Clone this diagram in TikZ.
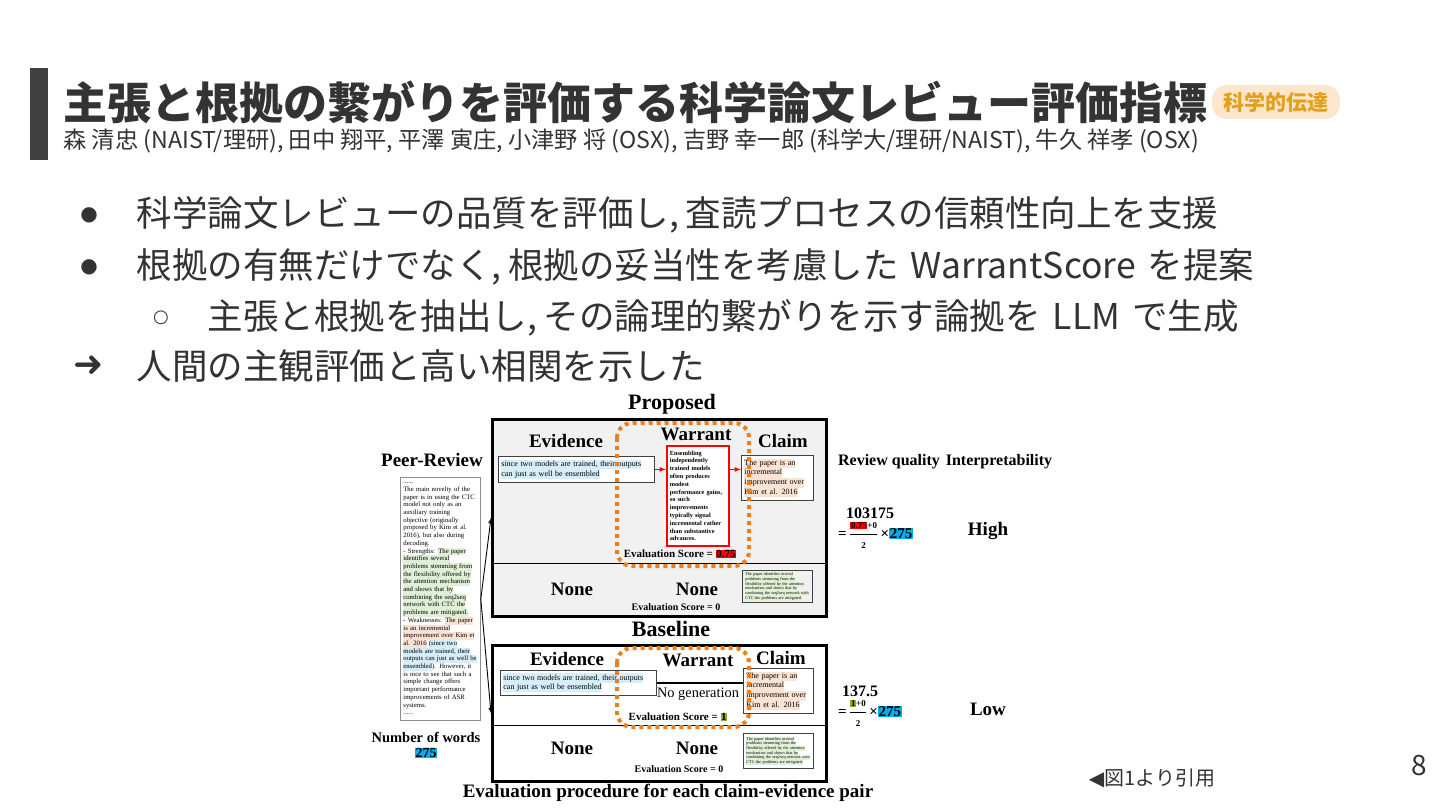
\documentclass[tikz,border=0pt]{standalone}
\usepackage{fontspec}
\setmainfont{Liberation Serif}
\newfontfamily\jp{Noto Sans CJK JP}
\newfontfamily\sym{DejaVu Sans}
\usepackage{tikz}
\tikzset{>=latex}
\definecolor{ink}{HTML}{333333}
\definecolor{barc}{HTML}{404040}
\definecolor{badgebg}{HTML}{FDE6CC}
\definecolor{badgefg}{HTML}{E3A01A}
\definecolor{dotor}{HTML}{E97F1F}
\definecolor{hlblue}{HTML}{D5EEF8}
\definecolor{hlorg}{HTML}{FBE3D4}
\definecolor{hlgrn}{HTML}{E0F0D6}
\definecolor{panelbg}{HTML}{F1F1F1}
\definecolor{hlolive}{HTML}{9AA236}
\newcommand{\fsz}[2]{\fontsize{#1}{#2}\selectfont}
\newcommand{\hl}[2]{{\fboxsep=0pt\colorbox{#1}{\strut#2}}}
\newcommand{\mk}[2]{{\fboxsep=.6pt\colorbox{#1}{#2}}}
\newcommand{\cm}{,\hspace{7pt}}
\newcommand{\halfof}[1]{{\displaystyle\frac{\mbox{\fsz{9}{10}#1+0}}{\mbox{\fsz{9}{10}2}}}}
\tikzset{hd/.style={font=\bfseries\fsz{19}{22}}}
\tikzset{bigtitle/.style={font=\bfseries\fsz{22}{24}}}
\tikzset{panel/.style={draw, line width=2.6pt, inner sep=0pt, anchor=north west}}
\tikzset{tbox/.style={draw=black!75, line width=.8pt, fill=white, inner xsep=3pt,
  inner ysep=2pt, align=left, anchor=north west}}
\tikzset{dotbox/.style={draw=dotor, line width=4pt, dash pattern=on 4pt off 4pt,
  rounded corners=15pt}}
\tikzset{itemtxt/.style={anchor=west, text=ink, font=\jp\fsz{35.5}{40}}}
\tikzset{bulmk/.style={text=ink, font=\sym\fsz{20}{22}}}
\tikzset{badge/.style={fill=badgebg, rounded corners=15pt, minimum width=128pt,
  minimum height=34pt, inner sep=0pt, text=badgefg, font=\jp\bfseries\fsz{21}{22}}}
\tikzset{score/.style={font=\bfseries\fsz{11}{13}}}
\tikzset{num/.style={inner sep=0pt, font=\bfseries\fsz{16}{18}}}

\begin{document}
\begin{tikzpicture}[x=1pt, y=-1pt]
    \useasboundingbox (0,0) rectangle (1440,810);
    \fill[barc] (30,68) rectangle (48,160);
    \node[anchor=west, text=ink, font=\jp\bfseries\fsz{44}{50}] (title) at (60,102)
        {主張と根拠の繋がりを評価する科学論文レビュー評価指標};
    \node[badge] (tag) at (1276,102) {科学的伝達};
    \node[anchor=west, text=ink, font=\jp\fsz{23.2}{25}] (authors) at (60,141)
        {森 清忠 (NAIST/理研), 田中 翔平, 平澤 寅庄, 小津野 将 (OSX), 吉野 幸一郎 (科学大/理研/NAIST), 牛久 祥孝 (OSX)};

    \node[bulmk] (m1) at (89,215) {●};
    \node[itemtxt] (l1) at (133,215) {科学論文レビューの品質を評価し\cm 査読プロセスの信頼性向上を支援};
    \node[bulmk] (m2) at (89,267) {●};
    \node[itemtxt] (l2) at (133,267) {根拠の有無だけでなく\cm 根拠の妥当性を考慮した\hspace{4pt} WarrantScore\hspace{4pt} を提案};
    \node[bulmk, font=\sym\fsz{18}{20}] (m3) at (161,318) {○};
    \node[itemtxt] (l3) at (204,318) {主張と根拠を抽出し\cm その論理的繋がりを示す論拠を\hspace{4pt} LLM\hspace{4pt} で生成};
    \node[bulmk, font=\sym\bfseries\fsz{36}{38}] (m4) at (89,366) {➜};
    \node[itemtxt] (l4) at (133,366) {人間の主観評価と高い相関を示した};

    % peer review
    \node[hd] (peerTitle) at (432,460) {Peer-Review};
    \node[tbox, draw=black!45, text width=74pt, minimum height=243pt, font=\fsz{6.7}{7.7}]
        (peerBox) at (400,477) {......\\
        The main novelty of the\\
        paper is in using the CTC\\
        model not only as an\\
        auxiliary training\\
        objective (originally\\
        proposed by Kim et al.\\
        2016), but also during\\
        decoding.\\
        - Strengths: \hl{hlgrn}{The paper}\\
        \hl{hlgrn}{identifies several}\\
        \hl{hlgrn}{problems stemming from}\\
        \hl{hlgrn}{the flexibility offered by}\\
        \hl{hlgrn}{the attention mechanism}\\
        \hl{hlgrn}{and shows that by}\\
        \hl{hlgrn}{combining the seq2seq}\\
        \hl{hlgrn}{network with CTC the}\\
        \hl{hlgrn}{problems are mitigated.}\\
        - Weaknesses: \hl{hlorg}{The paper}\\
        \hl{hlorg}{is an incremental}\\
        \hl{hlorg}{improvement over Kim et}\\
        \hl{hlorg}{al. 2016} \hl{hlblue}{(since two}\\
        \hl{hlblue}{models are trained, their}\\
        \hl{hlblue}{outputs can just as well be}\\
        \hl{hlblue}{ensembled}). However, it\\
        is nice to see that such a\\
        simple change offers\\
        important performance\\
        improvements of ASR\\
        systems.\\
        ......};
    \node[font=\bfseries\fsz{14.5}{16}] (nwTitle) at (426,737) {Number of words};
    \node[font=\bfseries\fsz{14}{16}] (nwVal) at (426,753) {\mk{cyan}{275}};

    % proposed
    \node[bigtitle] (propTitle) at (672,404) {Proposed};
    \node[panel, fill=panelbg, minimum width=334pt, minimum height=197pt] (propBox) at (491,418) {};
    \draw[line width=1pt] (propBox.west |- 0,563) -- (propBox.east |- 0,563);
    \node[hd] (pEvH) at (566,441) {Evidence};
    \node[hd] (pWaH) at (696,434) {Warrant};
    \node[hd] (pClH) at (783,441) {Claim};
    \node[tbox, text width=150pt, minimum height=26pt, font=\fsz{8}{9.5}] (pEvid) at (498,456)
        {\hl{hlblue}{since two models are trained, their outputs}\\
        \hl{hlblue}{can just as well be ensembled}};
    \node[tbox, draw=red, line width=1.6pt, text width=56pt, minimum height=100pt,
        font=\bfseries\fsz{6.3}{7.8}] (pWarr) at (666,445)
        {Ensembling\\independently\\trained models\\often produces\\modest\\performance gains,\\
        so such\\improvements\\typically signal\\incremental rather\\than substantive\\advances.};
    \node[tbox, text width=66pt, minimum height=45pt, font=\fsz{8}{9.7}] (pClaim) at (741,455)
        {\hl{hlorg}{The paper is an}\\\hl{hlorg}{incremental}\\
        \hl{hlorg}{improvement over}\\\hl{hlorg}{Kim et al. 2016}};
    \draw[->, red, line width=1.2pt] (pEvid.east) -- (pEvid.east -| pWarr.west);
    \draw[->, red, line width=1.2pt] (pWarr.east |- pEvid.east) -- (pEvid.east -| pClaim.west);
    \node[score] (pScore) at (680,554) {Evaluation Score = \mk{red}{0.75}};
    \node[hd] (pNoneE) at (572,589) {None};
    \node[hd] (pNoneW) at (697,589) {None};
    \node[score, font=\bfseries\fsz{10}{12}] (pScore0) at (676,607) {Evaluation Score = 0};
    \node[tbox, fill=panelbg, text width=64pt, minimum height=32pt, font=\fsz{4.2}{4.7}] (pGrn) at (742,570)
        {\hl{hlgrn}{The paper identifies several}\\\hl{hlgrn}{problems stemming from the}\\
        \hl{hlgrn}{flexibility offered by the attention}\\\hl{hlgrn}{mechanism and shows that by}\\
        \hl{hlgrn}{combining the seq2seq network with}\\\hl{hlgrn}{CTC the problems are mitigated.}};
    \draw[dotbox] (617,423) rectangle (749,566);

    % baseline
    \node[bigtitle] (baseTitle) at (671,629) {Baseline};
    \node[panel, fill=white, minimum width=334pt, minimum height=136pt] (baseBox) at (491,644) {};
    \draw[line width=1pt] (baseBox.west |- 0,725) -- (baseBox.east |- 0,725);
    \node[hd] (bEvH) at (567,659) {Evidence};
    \node[hd] (bWaH) at (698,660) {Warrant};
    \node[hd] (bClH) at (781,658) {Claim};
    \node[tbox, text width=150pt, minimum height=25pt, font=\fsz{8}{9.5}] (bEvid) at (500,670)
        {\hl{hlblue}{since two models are trained, their outputs}\\
        \hl{hlblue}{can just as well be ensembled}};
    \node[tbox, text width=64pt, minimum height=45pt, font=\fsz{8}{9.7}] (bClaim) at (743,668)
        {\hl{hlorg}{The paper is an}\\\hl{hlorg}{incremental}\\
        \hl{hlorg}{improvement over}\\\hl{hlorg}{Kim et al. 2016}};
    \draw[line width=2.4pt] (bEvid.east) -- (bEvid.east -| bClaim.west);
    \node[font=\fsz{14.4}{16}] (bNoGen) at (698,694) {No generation};
    \node[score] (bScore) at (678,717) {Evaluation Score = \mk{hlolive}{1}};
    \node[hd] (bNoneE) at (572,748) {None};
    \node[hd] (bNoneW) at (697,748) {None};
    \node[score, font=\bfseries\fsz{10}{12}] (bScore0) at (679,769) {Evaluation Score = 0};
    \node[tbox, text width=64pt, minimum height=35pt, font=\fsz{4.2}{4.7}] (bGrn) at (743,733)
        {\hl{hlgrn}{The paper identifies several}\\\hl{hlgrn}{problems stemming from the}\\
        \hl{hlgrn}{flexibility offered by the attention}\\\hl{hlgrn}{mechanism and shows that by}\\
        \hl{hlgrn}{combining the seq2seq network with}\\\hl{hlgrn}{CTC the problems are mitigated.}};
    \draw[dotbox] (617,648) rectangle (749,727);
    \node[hd] (caption) at (668,793) {Evaluation procedure for each claim-evidence pair};

    \draw[->, line width=.9pt] (peerBox.east) -- (propBox.west);
    \draw[->, line width=.9pt] (peerBox.east) -- (baseBox.west);

    % scores
    \node[font=\bfseries\fsz{16}{18}] (rqH) at (889,462) {Review quality};
    \node[font=\bfseries\fsz{16}{18}] (ipH) at (999,462) {Interpretability};
    \node[num] (pRQ) at (870,513) {103175};
    \node[num, anchor=west, font=\bfseries\fsz{15}{18}] (pFrac) at (838,535)
        {=\,$\halfof{\mk{red}{0.75}}$\,×\mk{cyan}{275}};
    \node[font=\bfseries\fsz{19}{22}] (pHigh) at (988,531) {High};
    \node[num] (bRQ) at (860,691) {137.5};
    \node[num, anchor=west, font=\bfseries\fsz{15}{18}] (bFrac) at (838,713)
        {=\,$\halfof{\mk{hlolive}{1}}$\,×\mk{cyan}{275}};
    \node[font=\bfseries\fsz{19}{22}] (bLow) at (988,709) {Low};

    \node[text=ink, font=\jp\fsz{20}{22}] (cite) at (1152,778) {{\sym ◀}図1より引用};
    \node[text=ink, font=\jp\fsz{28}{30}] (pageNo) at (1419,766) {8};
\end{tikzpicture}
\end{document}
